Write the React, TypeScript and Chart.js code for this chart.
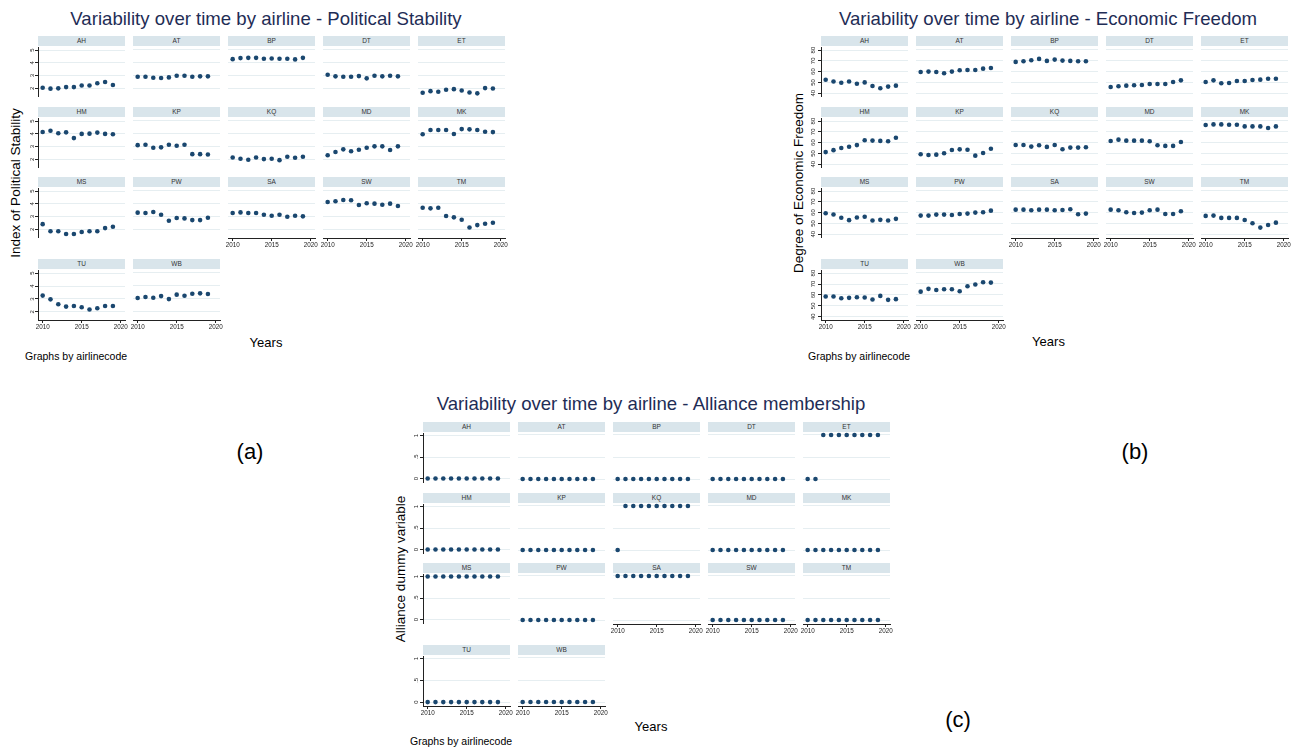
import React, { useEffect, useRef } from "react";
import { Chart, registerables } from "chart.js";
Chart.register(...registerables);

const FONT = "'Liberation Sans', Arial, Helvetica, sans-serif";
const POINT = "#1a476f";
const GRID = "#e6eef1";
const AXIS = "#222222";
const STRIP = "#d9e5eb";
const TITLE = "#1f2d56";

const airlines = ["AH", "AT", "BP", "DT", "ET", "HM", "KP", "KQ", "MD", "MK", "MS", "PW", "SA", "SW", "TM", "TU", "WB"];
const years = [2010, 2011, 2012, 2013, 2014, 2015, 2016, 2017, 2018, 2019];
const xTicks = [2010, 2015, 2020];

// Index of Political Stability, one row per airline (order as airlines)
const politicalStability = [
  [2.05, 1.98, 2.0, 2.1, 2.1, 2.22, 2.22, 2.4, 2.5, 2.27],
  [2.92, 2.92, 2.85, 2.82, 2.87, 3.0, 3.0, 2.92, 2.95, 2.95],
  [4.27, 4.35, 4.37, 4.37, 4.3, 4.32, 4.3, 4.3, 4.25, 4.37],
  [3.07, 2.95, 2.92, 2.92, 2.97, 2.8, 3.0, 2.95, 3.0, 2.95],
  [1.7, 1.82, 1.77, 1.92, 1.97, 1.87, 1.72, 1.65, 2.05, 2.02],
  [4.15, 4.25, 4.05, 4.12, 3.67, 4.0, 4.02, 4.1, 4.0, 3.97],
  [3.12, 3.15, 2.92, 2.95, 3.15, 3.07, 3.15, 2.43, 2.43, 2.4],
  [2.18, 2.08, 2.0, 2.18, 2.05, 2.08, 1.97, 2.23, 2.15, 2.23],
  [2.35, 2.6, 2.8, 2.65, 2.77, 2.92, 3.03, 3.03, 2.75, 3.03],
  [3.95, 4.28, 4.28, 4.28, 3.97, 4.35, 4.33, 4.28, 4.15, 4.12],
  [2.41, 1.85, 1.85, 1.64, 1.64, 1.79, 1.85, 1.85, 2.1, 2.2],
  [3.31, 3.28, 3.36, 3.15, 2.69, 2.9, 2.87, 2.74, 2.74, 2.92],
  [3.28, 3.33, 3.28, 3.28, 3.15, 3.08, 3.15, 3.0, 3.08, 3.03],
  [4.13, 4.18, 4.28, 4.26, 3.9, 4.03, 4.0, 3.92, 4.0, 3.82],
  [3.69, 3.64, 3.69, 3.05, 2.95, 2.77, 2.18, 2.36, 2.46, 2.54],
  [3.26, 2.97, 2.59, 2.41, 2.46, 2.36, 2.18, 2.28, 2.46, 2.46],
  [3.05, 3.13, 3.08, 3.2, 2.97, 3.31, 3.23, 3.38, 3.41, 3.36],
];
const psTicks = [2, 3, 4, 5];
const psTickLabels = ["2", "3", "4", "5"];

// Degree of Economic Freedom
const economicFreedom = [
  [52.4, 50.9, 49.7, 50.9, 48.8, 50.0, 46.7, 44.6, 46.1, 47.0],
  [59.7, 60.0, 59.7, 58.5, 60.0, 61.2, 61.5, 61.5, 62.7, 63.3],
  [68.8, 69.4, 70.3, 71.5, 69.7, 70.9, 70.0, 69.7, 69.4, 69.4],
  [46.1, 46.7, 47.3, 47.6, 47.9, 48.8, 48.8, 48.8, 50.6, 52.1],
  [50.6, 52.1, 49.4, 49.7, 51.5, 51.5, 52.4, 52.7, 53.6, 53.6],
  [51.2, 53.0, 55.0, 56.2, 57.7, 62.2, 61.9, 61.6, 61.3, 64.5],
  [49.4, 48.8, 49.1, 50.3, 53.3, 53.9, 53.6, 48.2, 50.6, 54.5],
  [57.9, 57.9, 56.4, 57.6, 56.1, 57.9, 54.0, 55.5, 55.5, 55.8],
  [61.5, 62.7, 61.8, 61.8, 61.8, 61.2, 57.6, 57.0, 57.0, 60.6],
  [75.9, 76.5, 76.5, 76.2, 76.2, 74.7, 74.7, 74.7, 73.2, 74.7],
  [59.4, 58.2, 55.2, 53.0, 55.5, 56.1, 52.7, 53.3, 52.7, 54.2],
  [57.3, 57.3, 58.2, 58.2, 57.9, 58.8, 59.1, 60.0, 60.3, 61.8],
  [62.7, 62.7, 62.1, 62.7, 62.7, 62.1, 62.4, 63.0, 58.5, 59.1],
  [62.7, 62.1, 60.3, 59.7, 60.0, 62.1, 62.7, 58.8, 58.8, 61.2],
  [57.0, 57.3, 55.2, 55.2, 55.2, 53.3, 50.3, 46.4, 48.8, 50.9],
  [58.5, 58.5, 57.0, 57.3, 57.9, 57.6, 55.8, 59.1, 55.5, 56.1],
  [62.7, 65.2, 64.2, 64.8, 64.8, 63.0, 67.6, 69.1, 71.2, 70.9],
];
const efTicks = [40, 50, 60, 70, 80];
const efTickLabels = ["40", "50", "60", "70", "80"];

// Alliance dummy variable
const allianceMembership = [
  [0, 0, 0, 0, 0, 0, 0, 0, 0, 0],
  [0, 0, 0, 0, 0, 0, 0, 0, 0, 0],
  [0, 0, 0, 0, 0, 0, 0, 0, 0, 0],
  [0, 0, 0, 0, 0, 0, 0, 0, 0, 0],
  [0, 0, 1, 1, 1, 1, 1, 1, 1, 1],
  [0, 0, 0, 0, 0, 0, 0, 0, 0, 0],
  [0, 0, 0, 0, 0, 0, 0, 0, 0, 0],
  [0, 1, 1, 1, 1, 1, 1, 1, 1, 1],
  [0, 0, 0, 0, 0, 0, 0, 0, 0, 0],
  [0, 0, 0, 0, 0, 0, 0, 0, 0, 0],
  [1, 1, 1, 1, 1, 1, 1, 1, 1, 1],
  [0, 0, 0, 0, 0, 0, 0, 0, 0, 0],
  [1, 1, 1, 1, 1, 1, 1, 1, 1, 1],
  [0, 0, 0, 0, 0, 0, 0, 0, 0, 0],
  [0, 0, 0, 0, 0, 0, 0, 0, 0, 0],
  [0, 0, 0, 0, 0, 0, 0, 0, 0, 0],
  [0, 0, 0, 0, 0, 0, 0, 0, 0, 0],
];
const amTicks = [0, 0.5, 1];
const amTickLabels = ["0", ".5", "1"];

// layout constants
const X_MIN = 2009.4;
const X_MAX = 2020.55;
const PW = 87;
const PH = 50;
const COL_PITCH = 95;
const HEADER_TOPS = [36, 107, 177, 259];
const PADX = 12;
const PADY = 4;
const YW = 12;
const XH = 12;

type Fig = {
  ox: number;
  oy: number;
  title: string;
  titleX: number;
  titleBase: number;
  yTitle: string;
  values: number[][];
  yMin: number;
  yMax: number;
  yTicks: number[];
  yTickLabels: string[];
  yearsBase: number;
  yearsX: number;
  graphsX: number;
  graphsBase: number;
  tag: string;
  tagX: number;
  tagY: number;
};

const figures: Fig[] = [
  {
    ox: 0, oy: 0,
    title: "Variability over time by airline - Political Stability",
    titleX: 266, titleBase: 26,
    yTitle: "Index of Political Stability",
    values: politicalStability, yMin: 1.37, yMax: 5.2, yTicks: psTicks, yTickLabels: psTickLabels,
    yearsX: 266, yearsBase: 347, graphsX: 25, graphsBase: 359.5,
    tag: "(a)", tagX: 250, tagY: 452,
  },
  {
    ox: 783, oy: 0,
    title: "Variability over time by airline - Economic Freedom",
    titleX: 1048, titleBase: 26,
    yTitle: "Degree of Economic Freedom",
    values: economicFreedom, yMin: 37, yMax: 82.3, yTicks: efTicks, yTickLabels: efTickLabels,
    yearsX: 1048.5, yearsBase: 346.5, graphsX: 808, graphsBase: 359.5,
    tag: "(b)", tagX: 1135, tagY: 452,
  },
  {
    ox: 385, oy: 386,
    title: "Variability over time by airline - Alliance membership",
    titleX: 651, titleBase: 410.7,
    yTitle: "Alliance dummy variable",
    values: allianceMembership, yMin: -0.09, yMax: 1.045, yTicks: amTicks, yTickLabels: amTickLabels,
    yearsX: 651, yearsBase: 731.5, graphsX: 410, graphsBase: 745,
    tag: "(c)", tagX: 958, tagY: 720,
  },
];

function Panel(props: { x: number; y: number; hasY: boolean; hasX: boolean; values: number[]; fig: Fig }) {
  const { x, y, hasY, hasX, values, fig } = props;
  const ref = useRef<HTMLCanvasElement>(null);
  const left = x - PADX - (hasY ? YW : 0);
  const top = y - PADY;
  const width = PADX * 2 + (hasY ? YW : 0) + PW;
  const height = PADY + PH + (hasX ? XH : PADY);

  useEffect(() => {
    if (!ref.current) return;
    const chart = new Chart(ref.current, {
      type: "scatter",
      data: {
        datasets: [
          {
            data: years.map((yr, i) => ({ x: yr, y: values[i] })),
            backgroundColor: POINT,
            borderColor: POINT,
            borderWidth: 0,
            pointRadius: 2.3,
            pointHoverRadius: 2.3,
            clip: false as any,
          },
        ],
      },
      options: {
        animation: false,
        responsive: false,
        maintainAspectRatio: false,
        events: [],
        layout: {
          autoPadding: false,
          padding: { left: PADX, right: PADX, top: PADY, bottom: hasX ? 0 : PADY },
        },
        plugins: { legend: { display: false }, tooltip: { enabled: false }, title: { display: false } },
        scales: {
          x: {
            type: "linear",
            min: X_MIN,
            max: X_MAX,
            display: hasX,
            afterBuildTicks: (a: any) => {
              a.ticks = xTicks.map((v) => ({ value: v }));
            },
            afterFit: (a: any) => {
              a.height = hasX ? XH : 0;
            },
            grid: { display: true, drawOnChartArea: false, drawTicks: true, tickLength: 3, color: AXIS, tickColor: AXIS, lineWidth: 1 },
            border: { display: true, color: AXIS, width: 1 },
            ticks: {
              autoSkip: false,
              maxRotation: 0,
              minRotation: 0,
              padding: 0,
              font: { size: 6.3, family: FONT },
              color: "#222",
              callback: (v: any) => String(v),
            },
          },
          y: {
            type: "linear",
            min: fig.yMin,
            max: fig.yMax,
            display: true,
            afterBuildTicks: (a: any) => {
              a.ticks = fig.yTicks.map((v) => ({ value: v }));
            },
            afterFit: (a: any) => {
              a.width = hasY ? YW : 0;
            },
            grid: {
              display: true,
              drawOnChartArea: true,
              drawTicks: hasY,
              tickLength: 3,
              color: GRID,
              tickColor: AXIS,
              lineWidth: 1,
            },
            border: { display: hasY, color: AXIS, width: 1 },
            ticks: {
              display: hasY,
              autoSkip: false,
              minRotation: 90,
              maxRotation: 90,
              crossAlign: "center",
              padding: 1,
              font: { size: 6, family: FONT },
              color: "#222",
              callback: (v: any) => {
                const idx = fig.yTicks.indexOf(Number(v));
                return idx >= 0 ? fig.yTickLabels[idx] : "";
              },
            },
          },
        },
      } as any,
    });
    return () => chart.destroy();
  }, []);

  return (
    <canvas
      ref={ref}
      width={width}
      height={height}
      style={{ position: "absolute", left, top, width, height }}
    />
  );
}

function textTop(base: number, fs: number) {
  return base - 0.8465 * fs;
}

function Figure({ fig }: { fig: Fig }) {
  const items: React.ReactNode[] = [];
  airlines.forEach((code, i) => {
    const row = Math.floor(i / 5);
    const col = i % 5;
    const px = fig.ox + 38 + col * COL_PITCH;
    const ht = fig.oy + HEADER_TOPS[row];
    const py = ht + 11;
    const hasY = col === 0;
    const hasX = row === 3 || (row === 2 && col >= 2);
    items.push(
      <div
        key={"h" + code}
        style={{
          position: "absolute",
          left: px,
          top: ht,
          width: PW,
          height: 10,
          background: STRIP,
          color: "#333",
          fontFamily: FONT,
          fontSize: 6.5,
          lineHeight: "10px",
          textAlign: "center",
        }}
      >
        {code}
      </div>
    );
    items.push(<Panel key={"p" + code} x={px} y={py} hasY={hasY} hasX={hasX} values={fig.values[i]} fig={fig} />);
  });

  const common: React.CSSProperties = { position: "absolute", fontFamily: FONT, lineHeight: 1, whiteSpace: "nowrap" };
  return (
    <>
      <div style={{ ...common, left: fig.titleX, top: textTop(fig.titleBase, 18.6), fontSize: 18.6, color: TITLE, transform: "translateX(-50%)" }}>
        {fig.title}
      </div>
      <div
        style={{
          ...common,
          left: fig.ox + 16,
          top: fig.oy + 183,
          fontSize: 13.5,
          color: "#000",
          transform: "translate(-50%, -50%) rotate(-90deg)",
        }}
      >
        {fig.yTitle}
      </div>
      <div style={{ ...common, left: fig.yearsX, top: textTop(fig.yearsBase, 13), fontSize: 13, color: "#000", transform: "translateX(-50%)" }}>
        Years
      </div>
      <div style={{ ...common, left: fig.graphsX, top: textTop(fig.graphsBase, 10.5), fontSize: 10.5, color: "#000" }}>
        Graphs by airlinecode
      </div>
      <div
        style={{
          ...common,
          left: fig.tagX,
          top: fig.tagY,
          fontSize: 22,
          color: "#000",
          transform: "translate(-50%, -50%)",
        }}
      >
        {fig.tag}
      </div>
      {items}
    </>
  );
}

export default function App() {
  return (
    <div style={{ position: "absolute", left: 0, top: 0, width: 1294, height: 748, background: "#fff", overflow: "hidden" }}>
      {figures.map((f, i) => (
        <Figure key={i} fig={f} />
      ))}
    </div>
  );
}
